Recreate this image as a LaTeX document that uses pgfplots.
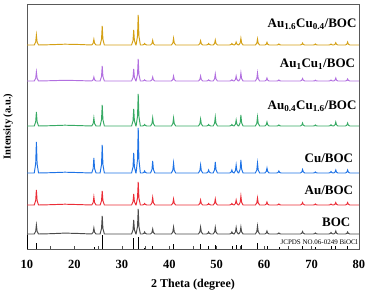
\documentclass[border=0pt]{standalone}
\usepackage{pgfplots}
\usepackage{pgfplotstable}
\pgfplotsset{compat=1.18}
\usepackage{fontspec}
\setmainfont{Liberation Serif}
\definecolor{cgold}{RGB}{212,160,20}
\definecolor{cpurple}{RGB}{178,112,224}
\definecolor{cgreen}{RGB}{55,170,100}
\definecolor{cblue}{RGB}{30,115,230}
\definecolor{cred}{RGB}{235,45,55}
\definecolor{cblack}{RGB}{75,75,75}
% columns: 2theta, Au1.6Cu0.4, Au1Cu1, Au0.4Cu1.6, Cu, Au, BOC (offset intensities)
\pgfplotstableread{
x g p gr bl r bk
10 204 168 123 76 44 15
11.53 204 168 123 76 44 15
11.83 207 170.7 127.2 85.3 48.5 17.7
11.98 214 177 137 107 59 24
12.13 207 170.7 127.2 85.3 48.5 17.7
12.43 204 168 123 76 44 15
15 204.3 168.3 123.3 76.3 44.3 15.3
18 204.8 168.7 123.8 76.8 44.8 15.9
21 204.5 168.4 123.4 76.4 44.4 15.5
23.65 204 168 123 76 44 15
23.95 205.7 169.2 125.4 80.5 46.4 16.8
24.1 209.7 172 131 91 52 21
24.25 205.7 169.2 125.4 80.5 46.4 16.8
24.55 204 168 123 76 44 15
25.41 204 168 123 76 44 15
25.71 209.7 172.5 129.3 84.4 48.2 20.4
25.86 223 183 144 104 58 33
26.01 209.7 172.5 129.3 84.4 48.2 20.4
26.31 204 168 123 76 44 15
32.05 204 168 123 76 44 15
32.35 208.5 171.6 128.1 82 47.3 19.2
32.5 219 180 140 96 55 29
32.65 208.5 171.6 128.1 82 47.3 19.2
32.95 204 168 123 76 44 15
33.0 204 168 123 76 44 15
33.3 213 174.6 132.6 89.5 50.9 22.5
33.45 234 190 155 121 67 40
33.6 213 174.6 132.6 89.5 50.9 22.5
33.9 204 168 123 76 44 15
34.35 204 168 123 76 44 15
34.65 204.5 168.4 123.5 76.6 44.5 15.6
34.8 205.5 169.2 124.5 78 45.5 17
34.95 204.5 168.4 123.5 76.6 44.5 15.6
35.25 204 168 123 76 44 15
36.05 204 168 123 76 44 15
36.35 205.4 169.2 125.4 79.6 46.3 16.5
36.5 208.7 172 131 88 51.5 20
36.65 205.4 169.2 125.4 79.6 46.3 16.5
36.95 204 168 123 76 44 15
40.45 204 168 123 76 44 15
40.75 206 169.5 125.4 79 45.8 17.1
40.9 210.7 173 131 86 50 22
41.05 206 169.5 125.4 79 45.8 17.1
41.35 204 168 123 76 44 15
46.15 204 168 123 76 44 15
46.45 205.3 169.5 125.1 78.4 45.5 17.1
46.6 208.3 173 130 84 49 22
46.75 205.3 169.5 125.1 78.4 45.5 17.1
47.05 204 168 123 76 44 15
47.85 204 168 123 76 44 15
48.15 204.5 168.4 123.5 76.9 44.5 15.6
48.3 205.5 169.2 124.5 79 45.5 17
48.45 204.5 168.4 123.5 76.9 44.5 15.6
48.75 204 168 123 76 44 15
49.25 204 168 123 76 44 15
49.55 205.5 170.1 125.7 79.3 45.8 17
49.7 209 175 132 87 50 21.7
49.85 205.5 170.1 125.7 79.3 45.8 17
50.15 204 168 123 76 44 15
52.75 204 168 123 76 44 15
53.05 204.5 168.4 123.5 76.9 44.5 15.6
53.2 205.5 169.2 124.5 79 45.5 17
53.35 204.5 168.4 123.5 76.9 44.5 15.6
53.65 204 168 123 76 44 15
53.95 204.9 169.5 124.8 78.4 45.5 17
54.1 207 173 129 84 49 21.5
54.25 204.9 169.5 124.8 78.4 45.5 17
54.55 204 168 123 76 44 15
54.65 204 168 123 76 44 15
54.95 206 170.4 126.3 79.9 46.7 17.1
55.1 210.7 176 134 89 53 22
55.25 206 170.4 126.3 79.9 46.7 17.1
55.55 204 168 123 76 44 15
58.15 204 168 123 76 44 15
58.45 205.8 170.4 125.7 79 46.1 17.4
58.6 210 176 132 86 51 23
58.75 205.8 170.4 125.7 79 46.1 17.4
59.05 204 168 123 76 44 15
60.15 204 168 123 76 44 15
60.45 204.8 168.9 124.2 77.5 44.9 15.9
60.6 206.7 171 127 81 47 18
60.75 204.8 168.9 124.2 77.5 44.9 15.9
61.05 204 168 123 76 44 15
62.65 204 168 123 76 44 15
62.95 204.3 168.3 123.3 76.6 44.3 15.3
63.1 205 169 124 78 45 16
63.25 204.3 168.3 123.3 76.6 44.3 15.3
63.55 204 168 123 76 44 15
67.65 204 168 123 76 44 15
67.95 204.6 168.8 123.9 77.1 44.8 15.8
68.1 206 170.5 126 79.5 46.5 17.5
68.25 204.6 168.8 123.9 77.1 44.8 15.8
68.55 204 168 123 76 44 15
70.35 204 168 123 76 44 15
70.65 204.3 168.2 123.3 76.3 44.3 15.3
70.8 205 168.8 124 77 45 16
70.95 204.3 168.2 123.3 76.3 44.3 15.3
71.25 204 168 123 76 44 15
73.65 204 168 123 76 44 15
73.95 204.3 168.3 123.4 76.5 44.3 15.5
74.1 205 169 124.2 77.5 45 16.5
74.25 204.3 168.3 123.4 76.5 44.3 15.5
74.55 204 168 123 76 44 15
74.65 204 168 123 76 44 15
74.95 204.7 168.9 124.2 76.9 44.8 15.9
75.1 206.3 171 127 79 46.5 18
75.25 204.7 168.9 124.2 76.9 44.8 15.9
75.55 204 168 123 76 44 15
77.15 204 168 123 76 44 15
77.45 204.9 168.6 123.9 76.9 44.8 15.6
77.6 207 170 126 79 46.5 17
77.75 204.9 168.6 123.9 76.9 44.8 15.6
78.05 204 168 123 76 44 15
80 204 168 123 76 44 15
}\xrd
\pgfplotstableread{
x h
11.98 6
24.1 2.5
25.86 14
32.5 11
33.45 12.5
34.8 1.5
36.5 3
40.9 5
46.6 5
48.3 3
49.7 4
53.2 3
54.1 4
55.1 4
58.6 6
60.6 3
63.1 2
68.1 3
70.8 2
74.1 3
75.1 3
77.6 3
}\sticks
\begin{document}
\begin{tikzpicture}
\begin{axis}[
  width=332pt, height=245pt, scale only axis,
  xmin=10, xmax=80, ymin=0, ymax=245,
  ytick=\empty,
  xtick={10,20,...,80}, minor xtick={15,25,...,75},
  tick align=inside, xtick pos=bottom,
  major tick length=3pt, minor tick length=3pt,
  axis line style={draw=black!65, line width=0.6pt},
  every tick/.style={black!70, line width=0.6pt},
  /pgf/number format/assume math mode=true,
  xticklabel style={font=\bfseries\fontsize{12.5}{12.5}\selectfont, anchor=base, yshift=-19pt},
  every axis x label/.style={at={(axis description cs:0.5,-0.159)}, anchor=base, font=\bfseries\fontsize{12}{12}\selectfont},
  every axis y label/.style={at={(axis description cs:-0.057,0.5)}, anchor=center, rotate=90, font=\bfseries\fontsize{10.5}{10.5}\selectfont},
  xlabel={2 Theta (degree)},
  ylabel={Intensity (a.u.)},
  clip=true,
]
\addplot[cgold, line width=0.95pt] table[x=x, y=g] {\xrd};
\addplot[cpurple, line width=0.95pt] table[x=x, y=p] {\xrd};
\addplot[cgreen, line width=0.95pt] table[x=x, y=gr] {\xrd};
\addplot[cblue, line width=0.95pt] table[x=x, y=bl] {\xrd};
\addplot[cred, line width=0.95pt] table[x=x, y=r] {\xrd};
\addplot[cblack, line width=0.95pt] table[x=x, y=bk] {\xrd};
\addplot[ycomb, black, line width=0.6pt, mark=none] table[x=x, y=h] {\sticks};
\addplot[black, line width=1.2pt] coordinates {(10,0)(10,14)};
\node[anchor=base east, inner sep=0pt, font=\bfseries\fontsize{13}{13}\selectfont] at (axis cs:79.5,221.7) {Au\textsubscript{1.6}Cu\textsubscript{0.4}/BOC};
\node[anchor=base east, inner sep=0pt, font=\bfseries\fontsize{13}{13}\selectfont] at (axis cs:79.2,181.3) {Au\textsubscript{1}Cu\textsubscript{1}/BOC};
\node[anchor=base east, inner sep=0pt, font=\bfseries\fontsize{13}{13}\selectfont] at (axis cs:79.5,139) {Au\textsubscript{0.4}Cu\textsubscript{1.6}/BOC};
\node[anchor=base east, inner sep=0pt, font=\bfseries\fontsize{13}{13}\selectfont] at (axis cs:78.8,86.3) {Cu/BOC};
\node[anchor=base east, inner sep=0pt, font=\bfseries\fontsize{13}{13}\selectfont] at (axis cs:78.8,54) {Au/BOC};
\node[anchor=base east, inner sep=0pt, font=\bfseries\fontsize{13}{13}\selectfont] at (axis cs:78.2,23) {BOC};
\node[anchor=east, inner sep=0pt, font=\fontsize{7}{7}\selectfont] at (axis cs:79.8,6.5) {JCPDS NO.06-0249 BiOCl};
\end{axis}
\pgfresetboundingbox
\path ([xshift=-27pt,yshift=-45pt]current axis.south west) rectangle ([xshift=12pt,yshift=4pt]current axis.north east);
\end{tikzpicture}
\end{document}
